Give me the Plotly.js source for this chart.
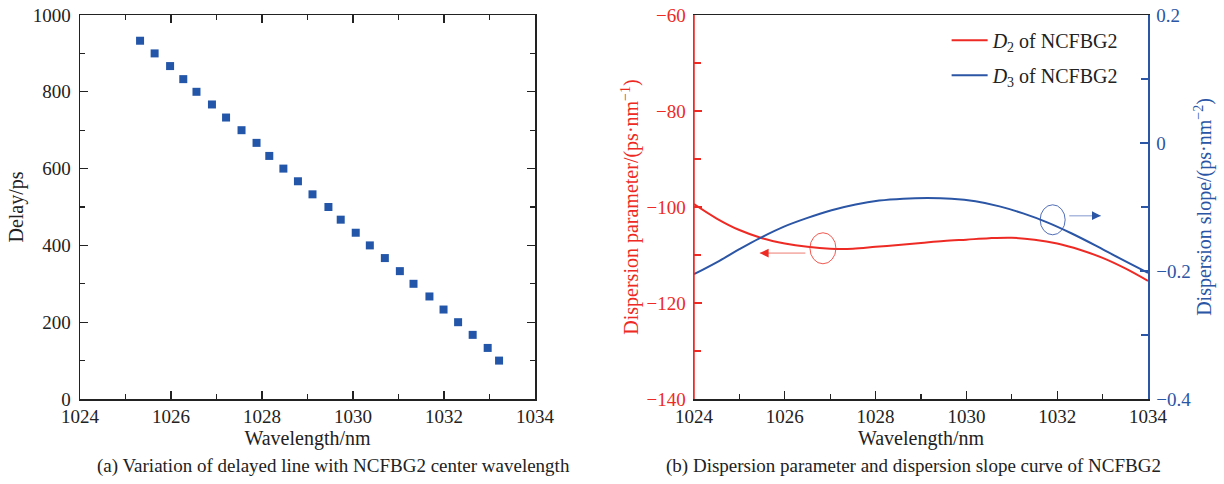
<!DOCTYPE html>
<html>
<head>
<meta charset="utf-8">
<script src="https://cdn.plot.ly/plotly-3.0.1.min.js"></script>
<style>html,body{margin:0;padding:0;background:#fff;}#chart{width:1224px;height:484px;}</style>
</head>
<body>
<div id="chart"></div>
<script>
// (a) delay vs centre wavelength
const wlDelay = [1025.32,1025.64,1025.98,1026.27,1026.56,1026.90,1027.21,1027.55,1027.88,1028.16,1028.47,1028.79,1029.11,1029.46,1029.73,1030.06,1030.37,1030.70,1031.03,1031.33,1031.68,1031.99,1032.31,1032.63,1032.96,1033.21];
const delayPs = [933,900,867,833,800,767,733,700,667,633,600,567,533,500,467,433,400,367,333,300,267,233,200,167,133,100];

// (b) dispersion parameter D2 and dispersion slope D3
const wlD2 = [1024,1024.5,1025,1025.5,1026,1026.5,1027,1027.5,1028,1028.5,1029,1029.5,1030,1030.5,1031,1031.5,1032,1032.5,1033,1033.5,1034];
const d2 = [-99.4,-102.4,-104.8,-106.5,-107.6,-108.3,-108.7,-108.7,-108.3,-107.9,-107.5,-107.1,-106.8,-106.5,-106.4,-106.8,-107.6,-108.9,-110.6,-112.8,-115.4];
const wlD3 = [1024,1024.56,1025.0,1025.44,1025.97,1026.5,1027.03,1027.56,1028.08,1028.61,1029.14,1029.67,1030.2,1030.73,1031.25,1031.78,1032.31,1032.84,1033.37,1034];
const d3 = [-0.205,-0.184,-0.166,-0.149,-0.131,-0.117,-0.105,-0.096,-0.090,-0.087,-0.086,-0.087,-0.091,-0.099,-0.110,-0.124,-0.141,-0.160,-0.180,-0.203];

const seriesNames = ['<i>D</i><sub>2</sub> of NCFBG2','<i>D</i><sub>3</sub> of NCFBG2'];
const captions = ['(a) Variation of delayed line with NCFBG2 center wavelength','(b) Dispersion parameter and dispersion slope curve of NCFBG2'];

const FONT = '"Liberation Serif", "Times New Roman", serif';
const RED = '#ee2a24';
const BLUE = '#2b55a5';
const INK = '#222';
const TICKF = {family: FONT, size: 19, color: INK};

const traces = [
  {x: wlDelay, y: delayPs, type: 'scatter', mode: 'markers', xaxis: 'x', yaxis: 'y',
   marker: {symbol: 'square', size: 8, color: '#2356a8'}, showlegend: false},
  {x: wlD2, y: d2, type: 'scatter', mode: 'lines', xaxis: 'x2', yaxis: 'y2',
   line: {color: RED, width: 2, shape: 'spline', smoothing: 1}, name: seriesNames[0], legendgroup: 'a'},
  {x: wlD3, y: d3, type: 'scatter', mode: 'lines', xaxis: 'x2', yaxis: 'y3',
   line: {color: BLUE, width: 2, shape: 'spline', smoothing: 1}, name: seriesNames[1], legendgroup: 'b'}
];

function ax(extra) {
  return Object.assign({showgrid: false, zeroline: false, showline: true, linewidth: 1.5,
    ticks: 'inside', ticklen: 8, tickwidth: 1.3}, extra);
}

const layout = {
  width: 1224, height: 484,
  margin: {l: 0, r: 0, t: 15, b: 85},
  paper_bgcolor: '#fff', plot_bgcolor: 'rgba(0,0,0,0)',
  font: {family: FONT, size: 19, color: INK},
  showlegend: true,
  legend: {x: 0.918, xanchor: 'right', y: 0.985, yanchor: 'top', bgcolor: 'rgba(0,0,0,0)',
           font: {family: FONT, size: 20, color: INK}, tracegroupgap: 6, itemwidth: 36},
  xaxis: ax({domain: [80/1224, 535/1224], anchor: 'y', range: [1024, 1034], dtick: 2, tick0: 1024,
    mirror: 'ticks', linecolor: INK, tickcolor: INK, tickfont: TICKF,
    minor: {dtick: 1, ticks: 'inside', ticklen: 5, tickcolor: INK},
    title: {text: 'Wavelength/nm', font: {family: FONT, size: 20, color: INK}, standoff: 3}}),
  yaxis: ax({domain: [0, 1], anchor: 'x', range: [0, 1000], dtick: 200,
    mirror: 'ticks', linecolor: INK, tickcolor: INK, tickfont: TICKF, ticklabelstandoff: 4,
    minor: {dtick: 100, ticks: 'inside', ticklen: 5, tickcolor: INK},
    title: {text: 'Delay/ps', font: {family: FONT, size: 20, color: INK}, standoff: 3}}),
  xaxis2: ax({domain: [694/1224, 1148/1224], anchor: 'y2', range: [1024, 1034], dtick: 2, tick0: 1024,
    mirror: true, linecolor: INK, tickcolor: INK, tickfont: TICKF,
    minor: {dtick: 1, ticks: 'inside', ticklen: 5, tickcolor: INK},
    title: {text: 'Wavelength/nm', font: {family: FONT, size: 20, color: INK}, standoff: 3}}),
  yaxis2: ax({domain: [0, 1], anchor: 'x2', side: 'left', range: [-140, -60], dtick: 20,
    linecolor: RED, tickcolor: RED, tickfont: {family: FONT, size: 19, color: RED}, ticklabelstandoff: 3,
    minor: {dtick: 10, ticks: 'inside', ticklen: 7, tickcolor: RED},
    title: {text: 'Dispersion parameter/(ps·nm<sup>−1</sup>)', font: {family: FONT, size: 20, color: RED}, standoff: 2}}),
  yaxis3: ax({overlaying: 'y2', anchor: 'x2', side: 'right', range: [-0.4, 0.2], dtick: 0.2,
    linecolor: BLUE, tickcolor: BLUE, tickfont: {family: FONT, size: 19, color: BLUE}, ticklabelstandoff: 3,
    minor: {dtick: 0.1, ticks: 'inside', ticklen: 7, tickcolor: BLUE},
    title: {text: 'Dispersion slope/(ps·nm<sup>−2</sup>)', font: {family: FONT, size: 20, color: BLUE}, standoff: 4}}),
  shapes: [
    // red left frame of panel (b), drawn on top so that it stays red
    {type: 'line', xref: 'x2 domain', yref: 'y2 domain', x0: 0, x1: 0, y0: 0, y1: 1, layer: 'above',
     line: {color: RED, width: 1.5}},
    {type: 'circle', xref: 'x2', yref: 'y2', xsizemode: 'pixel', ysizemode: 'pixel',
     xanchor: 1026.84, yanchor: -108.6, x0: -13, x1: 13, y0: -15.5, y1: 15.5,
     line: {color: 'rgba(238,60,50,0.85)', width: 1}},
    {type: 'circle', xref: 'x2', yref: 'y3', xsizemode: 'pixel', ysizemode: 'pixel',
     xanchor: 1031.9, yanchor: -0.12, x0: -12.5, x1: 12.5, y0: -15, y1: 15,
     line: {color: 'rgba(50,85,170,0.85)', width: 1}}
  ],
  annotations: [
    {xref: 'x2', yref: 'y2', x: 1025.45, y: -109.6, ax: 47, ay: 0, text: '', showarrow: true,
     arrowhead: 0, arrowwidth: 1.6, arrowcolor: 'rgba(240,120,110,0.55)'},
    {xref: 'x2', yref: 'y2', x: 1025.45, y: -109.6, ax: 9, ay: 0, text: '', showarrow: true,
     arrowhead: 2, arrowsize: 1.1, arrowwidth: 1.6, arrowcolor: RED},
    {xref: 'x2', yref: 'y3', x: 1032.96, y: -0.1136, ax: -33, ay: 0, text: '', showarrow: true,
     arrowhead: 0, arrowwidth: 1.6, arrowcolor: 'rgba(90,120,190,0.5)'},
    {xref: 'x2', yref: 'y3', x: 1032.96, y: -0.1136, ax: -9, ay: 0, text: '', showarrow: true,
     arrowhead: 2, arrowsize: 1.1, arrowwidth: 1.6, arrowcolor: BLUE},
    {xref: 'paper', yref: 'paper', x: 333/1224, y: -0.1745, xanchor: 'center', yanchor: 'middle', showarrow: false,
     text: captions[0], font: {family: FONT, size: 19, color: INK}},
    {xref: 'paper', yref: 'paper', x: 913/1224, y: -0.1745, xanchor: 'center', yanchor: 'middle', showarrow: false,
     text: captions[1], font: {family: FONT, size: 19, color: INK}}
  ]
};

Plotly.newPlot('chart', traces, layout, {displayModeBar: false, staticPlot: true});
</script>
</body>
</html>
